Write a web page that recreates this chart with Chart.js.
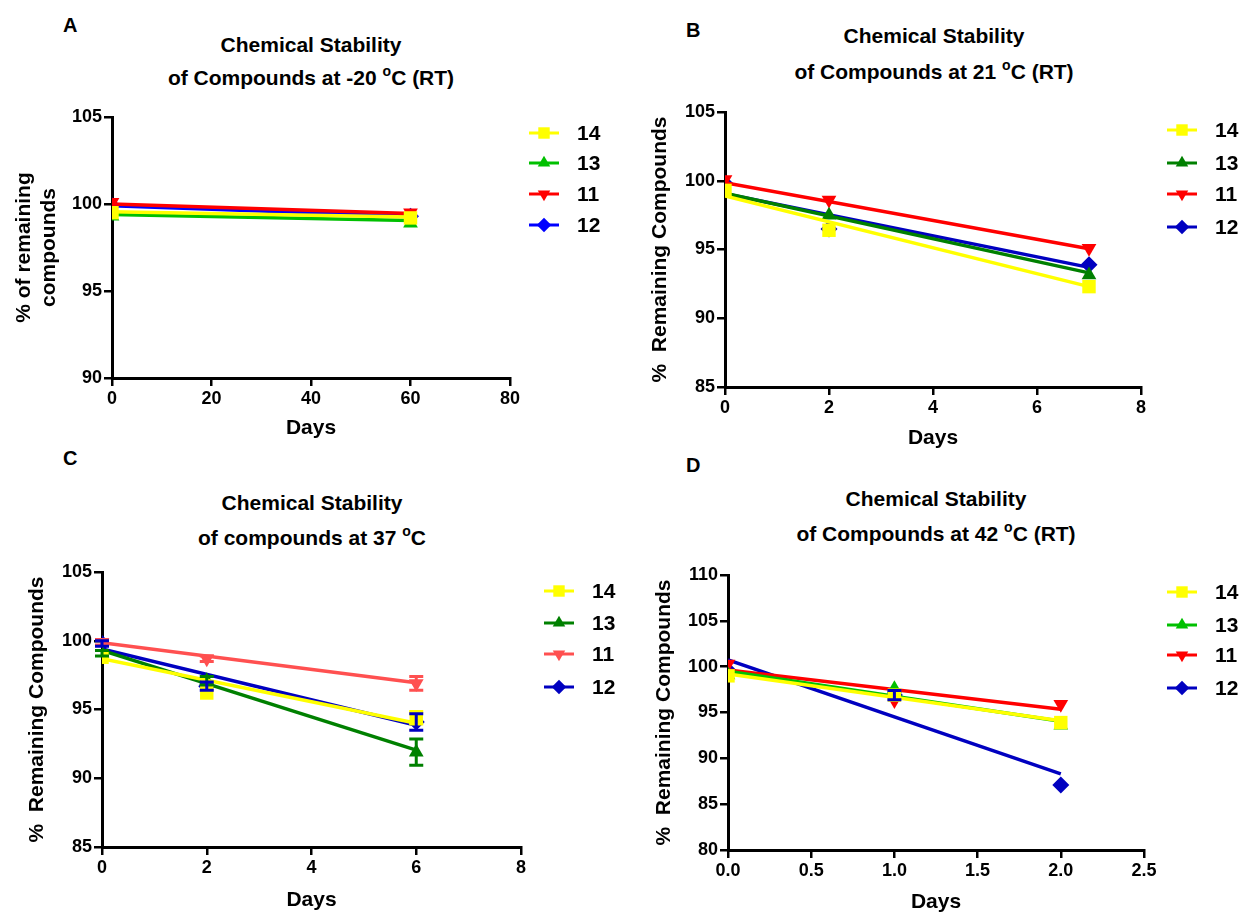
<!DOCTYPE html>
<html>
<head>
<meta charset="utf-8">
<script src="https://cdn.jsdelivr.net/npm/chart.js@4.4.1/dist/chart.umd.min.js"></script>
<style>
  body { margin:0; width:1242px; height:913px; overflow:hidden; background:#fff; position:relative;
         font-family:"Liberation Sans", Arial, sans-serif; color:#000; }
  canvas { position:absolute; }
  .tag { position:absolute; font-weight:bold; font-size:20px; line-height:20px; }
  .ttl { position:absolute; font-weight:bold; font-size:21px; text-align:center; white-space:nowrap; transform:translateX(-50%); }
  .ttl sup { font-size:14px; line-height:0; vertical-align:baseline; position:relative; top:-9px; }
</style>
</head>
<body>
<div class="tag" style="left:63px;top:15px">A</div>
<div class="tag" style="left:686px;top:20px">B</div>
<div class="tag" style="left:63px;top:448px">C</div>
<div class="tag" style="left:686px;top:455px">D</div>

<div class="ttl" style="left:311px;top:28px;line-height:33px">Chemical Stability<br>of Compounds at -20 <sup>o</sup>C (RT)</div>
<div class="ttl" style="left:934px;top:18px;line-height:36px">Chemical Stability<br>of Compounds at 21 <sup>o</sup>C (RT)</div>
<div class="ttl" style="left:312px;top:485px;line-height:35px">Chemical Stability<br>of compounds at 37 <sup>o</sup>C</div>
<div class="ttl" style="left:936px;top:481px;line-height:35px">Chemical Stability<br>of Compounds at 42 <sup>o</sup>C (RT)</div>

<canvas id="chartA"></canvas>
<canvas id="chartB"></canvas>
<canvas id="chartC"></canvas>
<canvas id="chartD"></canvas>

<script>
// series order in every legend: 14, 13, 11, 12
const labels = ['14', '13', '11', '12']

// A: -20 C
const daysA = [0, 60]
const a14 = [99.5, 99.2]
const a13 = [99.3, 98.9]
const a11 = [100.1, 99.5]
const a12 = [99.9, 99.3]
const a14Fit = [99.55, 99.25]
const a13Fit = [99.4, 99.05]
const a11Fit = [100.0, 99.45]
const a12Fit = [99.9, 99.3]

// B: 21 C
const daysB = [0, 2, 7]
const b14 = [99.3, 96.4, 92.3]
const b13 = [99.2, 97.5, 93.15]
const b11 = [100.1, 98.6, 95.1]
const b12 = [99.8, 96.5, 93.9]
const b14Fit = [98.9, 92.3]
const b13Fit = [99.1, 93.3]
const b11Fit = [99.85, 95.05]
const b12Fit = [99.05, 93.7]

// C: 37 C (with error bars)
const daysC = [0, 2, 6]
const c14 = [98.8, 96.2, 94.4]
const c13 = [99.1, 97.1, 91.9]
const c11 = [99.9, 98.7, 96.9]
const c12 = [99.8, 96.7, 94.1]
const c14Err = [0, 0, 0.45]
const c13Err = [0.2, 0.3, 0.95]
const c11Err = [0.2, 0.2, 0.5]
const c12Err = [0.2, 0.3, 0.6]
const c14Fit = [98.7, 94.0]
const c13Fit = [99.3, 92.05]
const c11Fit = [99.85, 96.95]
const c12Fit = [99.4, 93.85]

// D: 42 C
const daysD = [0, 1, 2]
const d14 = [99.0, 96.9, 93.9]
const d13 = [99.1, 97.6, 93.6]
const d11 = [100.3, 96.3, 95.9]
const d12 = [99.6, 96.9, 87.1]
const d12Err = [0, 0.5, 0]
const d14Fit = [99.2, 94.1]
const d13Fit = [99.5, 94.05]
const d11Fit = [99.65, 95.35]
const d12Fit = [100.75, 88.3]

// tick labels
const ticksA = { x: [0, 80, 20], y: [90, 105, 5] }
const ticksB = { x: [0, 8, 2], y: [85, 105, 5] }
const ticksC = { x: [0, 8, 2], y: [85, 105, 5] }
const ticksD = { x: [0, 2.5, 0.5], y: [80, 110, 5] }

const FONT = '"Liberation Sans", Arial, sans-serif'
const styles = [
    { style: 'rect', rot: 0, r: 9.5 },
    { style: 'triangle', rot: 0, r: 8.5 },
    { style: 'triangle', rot: 180, r: 8.5 },
    { style: 'rectRot', rot: 0, r: 8.5 }
]

function drawMarker(ctx, st, x, y, scale){
    const r = st.r * scale
    if (Chart.helpers && Chart.helpers.drawPoint){
        Chart.helpers.drawPoint(ctx, {pointStyle: st.style, rotation: st.rot, radius: r, borderWidth: 0}, x, y)
    } else {
        ctx.fillRect(x - r * 0.7, y - r * 0.7, r * 1.4, r * 1.4)
    }
}

// little error bar plugin, uses the chart's own scales
const errorBars = {
    id: 'errorBars',
    afterDatasetsDraw(chart){
        const {ctx, scales: {x, y}} = chart
        chart.data.datasets.forEach(d => {
            if (!d.errs) return
            ctx.save()
            ctx.strokeStyle = d.borderColor
            ctx.lineWidth = 3
            d.data.forEach((p, j) => {
                const e = d.errs[j]
                if (!e) return
                const px = x.getPixelForValue(p.x)
                const top = y.getPixelForValue(p.y + e)
                const bot = y.getPixelForValue(p.y - e)
                ctx.beginPath()
                ctx.moveTo(px, top); ctx.lineTo(px, bot)
                ctx.moveTo(px - 7, top); ctx.lineTo(px + 7, top)
                ctx.moveTo(px - 7, bot); ctx.lineTo(px + 7, bot)
                ctx.stroke()
            })
            ctx.restore()
        })
    }
}

// legend on the right: line + marker + label
const sideLegend = {
    id: 'sideLegend',
    afterDraw(chart, args, opts){
        const ctx = chart.ctx
        opts.colors.forEach((c, i) => {
            const y = opts.rows[i]
            ctx.save()
            ctx.strokeStyle = c
            ctx.fillStyle = c
            ctx.lineWidth = 3
            ctx.beginPath()
            ctx.moveTo(opts.x - 15, y); ctx.lineTo(opts.x + 15, y)
            ctx.stroke()
            drawMarker(ctx, styles[i], opts.x, y, 0.85)
            ctx.fillStyle = '#000'
            ctx.font = 'bold 21px ' + FONT
            ctx.textBaseline = 'middle'
            ctx.textAlign = 'left'
            ctx.fillText(labels[i], opts.labelX, y + 1)
            ctx.restore()
        })
    }
}

function buildDatasets(days, vals, fits, errs, colors){
    const ds = []
    vals.forEach((v, i) => {
        const last = days.length - 1
        ds.push({
            label: labels[i] + ' fit',
            data: [{x: days[0], y: fits[i][0]}, {x: days[last], y: fits[i][1]}],
            showLine: true, borderColor: colors[i], borderWidth: 3.5, pointRadius: 0, fill: false
        })
        ds.push({
            label: labels[i],
            data: days.map((d, j) => ({x: d, y: v[j]})),
            showLine: false, pointStyle: styles[i].style, rotation: styles[i].rot,
            pointRadius: styles[i].r, pointBorderWidth: 0,
            backgroundColor: colors[i], borderColor: colors[i], errs: errs[i]
        })
    })
    return ds
}

function makePanel(p){
    const canvas = document.getElementById(p.id)
    const [bx, by, bw, bh] = p.box
    const [L, T, R, B] = p.area
    canvas.width = bw; canvas.height = bh
    canvas.style.left = bx + 'px'; canvas.style.top = by + 'px'
    canvas.style.width = bw + 'px'; canvas.style.height = bh + 'px'

    const lh = 21 * 1.2
    const yLeft = p.yTitleX - lh / 2
    const yWidth = L - yLeft
    const xBottom = p.xTitleY + lh / 2
    const xHeight = xBottom - B

    const axis = (t, isX) => ({
        type: 'linear',
        min: t[0], max: t[1],
        border: { display: true, color: '#000', width: 3 },
        grid: { display: true, drawOnChartArea: false, drawTicks: true, tickLength: 8, lineWidth: 2.5, color: '#000' },
        ticks: {
            stepSize: t[2], color: '#000', padding: 2,
            font: { family: FONT, size: 18, weight: 'bold' },
            callback: v => p.fixed ? (isX ? v.toFixed(1) : v) : v,
            maxRotation: 0
        },
        title: {
            display: true, text: isX ? 'Days' : p.yTitle, color: '#000',
            padding: 0, font: { family: FONT, size: 21, weight: 'bold', lineHeight: 1.2 }
        },
        afterFit: s => { if (isX) s.height = xHeight; else s.width = yWidth }
    })

    return new Chart(canvas, {
        type: 'scatter',
        data: { datasets: buildDatasets(p.days, p.vals, p.fits, p.errs, p.colors) },
        options: {
            responsive: false,
            animation: false,
            events: [],
            layout: { padding: { left: yLeft - bx, top: T - by, right: bx + bw - R, bottom: by + bh - xBottom } },
            scales: { x: axis(p.ticks.x, true), y: axis(p.ticks.y, false) },
            plugins: {
                legend: { display: false },
                tooltip: { enabled: false },
                sideLegend: { x: p.legend[0] - bx, labelX: p.legend[1] - bx, rows: p.legend[2].map(r => r - by), colors: p.colors }
            }
        },
        plugins: [errorBars, sideLegend]
    })
}

makePanel({
    id: 'chartA', box: [0, 0, 621, 452], area: [112, 117, 510, 378], yTitleX: 24, xTitleY: 428,
    yTitle: ['% of remaining', 'compounds'], ticks: ticksA, days: daysA,
    vals: [a14, a13, a11, a12], fits: [a14Fit, a13Fit, a11Fit, a12Fit], errs: [null, null, null, null],
    colors: ['#FFFF00', '#00C000', '#FF0000', '#0000FF'],
    legend: [544, 577, [133, 163, 194, 225]]
})
makePanel({
    id: 'chartB', box: [621, 0, 621, 458], area: [725, 112, 1141, 387], yTitleX: 660, xTitleY: 438,
    yTitle: '%  Remaining Compounds', ticks: ticksB, days: daysB,
    vals: [b14, b13, b11, b12], fits: [b14Fit, b13Fit, b11Fit, b12Fit], errs: [null, null, null, null],
    colors: ['#FFFF00', '#008000', '#FF0000', '#0000C0'],
    legend: [1182, 1215, [130, 163, 194, 227]]
})
makePanel({
    id: 'chartC', box: [0, 452, 621, 461], area: [102, 572, 521, 847], yTitleX: 37, xTitleY: 900,
    yTitle: '%  Remaining Compounds', ticks: ticksC, days: daysC,
    vals: [c14, c13, c11, c12], fits: [c14Fit, c13Fit, c11Fit, c12Fit], errs: [c14Err, c13Err, c11Err, c12Err],
    colors: ['#FFFF00', '#008000', '#FF5050', '#0000C0'],
    legend: [559, 592, [591, 623, 654, 687]]
})
makePanel({
    id: 'chartD', box: [621, 458, 621, 457], area: [728, 575, 1144, 850], yTitleX: 664, xTitleY: 902,
    yTitle: '%  Remaining Compounds', ticks: ticksD, days: daysD, fixed: true,
    vals: [d14, d13, d11, d12], fits: [d14Fit, d13Fit, d11Fit, d12Fit], errs: [null, null, null, d12Err],
    colors: ['#FFFF00', '#00C000', '#FF0000', '#0000C0'],
    legend: [1182, 1215, [592, 625, 655, 688]]
})
</script>
</body>
</html>
